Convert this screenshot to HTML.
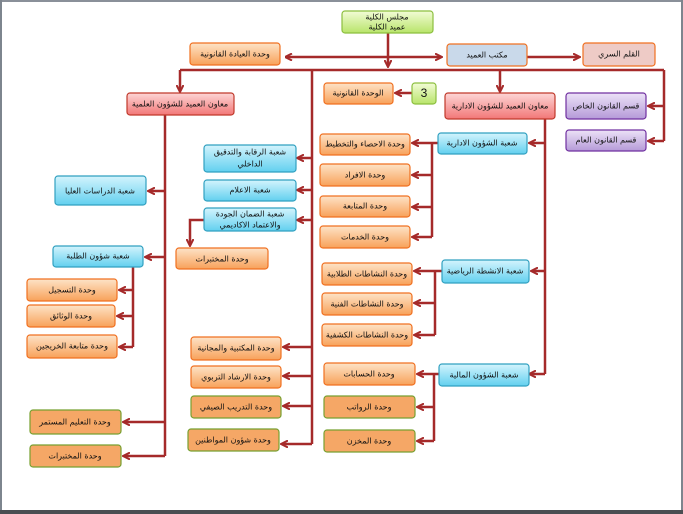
<!DOCTYPE html>
<html><head><meta charset="utf-8"><style>
html,body{margin:0;padding:0;background:#fff}
svg{display:block}
text{font-family:"DejaVu Sans",sans-serif;font-size:8px;fill:#111;text-anchor:middle;dominant-baseline:central;direction:rtl}
</style></head><body>
<svg width="683" height="514" viewBox="0 0 683 514" xmlns="http://www.w3.org/2000/svg">
<defs>
<linearGradient id="o" x1="0" y1="0" x2="0" y2="1"><stop offset="0" stop-color="#fde3c8"/><stop offset="1" stop-color="#f8a15a"/></linearGradient>
<linearGradient id="b" x1="0" y1="0" x2="0" y2="1"><stop offset="0" stop-color="#d4f4fd"/><stop offset="1" stop-color="#62d0ef"/></linearGradient>
<linearGradient id="r" x1="0" y1="0" x2="0" y2="1"><stop offset="0" stop-color="#fdd6d6"/><stop offset="1" stop-color="#f27777"/></linearGradient>
<linearGradient id="p" x1="0" y1="0" x2="0" y2="1"><stop offset="0" stop-color="#ece2f7"/><stop offset="1" stop-color="#b59ad8"/></linearGradient>
<linearGradient id="g" x1="0" y1="0" x2="0" y2="1"><stop offset="0" stop-color="#f2fcd6"/><stop offset="1" stop-color="#b8e46a"/></linearGradient>
<marker id="a" markerWidth="8" markerHeight="8" refX="6" refY="4" orient="auto" markerUnits="userSpaceOnUse"><path d="M0,0.5 L7,4 L0,7.5" fill="none" stroke="#a52a2a" stroke-width="2"/></marker>
<marker id="as" markerWidth="8" markerHeight="8" refX="1" refY="4" orient="auto" markerUnits="userSpaceOnUse"><path d="M7,0.5 L0,4 L7,7.5" fill="none" stroke="#a52a2a" stroke-width="2"/></marker>
</defs>
<!-- frame -->
<rect x="0" y="0" width="683" height="2" fill="#8a9099"/>
<rect x="0" y="0" width="2" height="514" fill="#7d858e"/>
<rect x="681" y="0" width="2" height="514" fill="#7d858e"/>
<rect x="0" y="510" width="683" height="4" fill="#4a4e52"/>

<g stroke="#a52a2a" stroke-width="2.5" fill="none">
<path d="M388,33 V66" marker-end="url(#a)"/>
<path d="M286,57 H441" marker-start="url(#as)" marker-end="url(#a)"/>
<path d="M527,57 H579" marker-end="url(#a)"/>
<path d="M180,70 H664"/>
<path d="M180,70 V91" marker-end="url(#a)"/>
<path d="M500,70 V91" marker-end="url(#a)"/>
<path d="M664,70 V141"/>
<path d="M664,106 H649" marker-end="url(#a)"/>
<path d="M664,141 H649" marker-end="url(#a)"/>
<path d="M412,93 H396" marker-end="url(#a)"/>
<path d="M312,70 V444"/>
<path d="M312,158 H298" marker-end="url(#a)"/>
<path d="M312,190 H298" marker-end="url(#a)"/>
<path d="M312,220 H298" marker-end="url(#a)"/>
<path d="M312,347 H284" marker-end="url(#a)"/>
<path d="M312,376 H284" marker-end="url(#a)"/>
<path d="M312,406 H284" marker-end="url(#a)"/>
<path d="M312,444 H282" marker-end="url(#a)"/>
<path d="M204,220 H190 V245" marker-end="url(#a)"/>
<path d="M165,112 V456"/>
<path d="M165,191 H149" marker-end="url(#a)"/>
<path d="M165,257 H146" marker-end="url(#a)"/>
<path d="M165,422 H124" marker-end="url(#a)"/>
<path d="M165,456 H124" marker-end="url(#a)"/>
<path d="M133,267 V347"/>
<path d="M133,290 H120" marker-end="url(#a)"/>
<path d="M133,316 H118" marker-end="url(#a)"/>
<path d="M133,347 H120" marker-end="url(#a)"/>
<path d="M545,119 V374"/>
<path d="M545,143 H530" marker-end="url(#a)"/>
<path d="M545,271 H532" marker-end="url(#a)"/>
<path d="M545,374 H530" marker-end="url(#a)"/>
<path d="M438,143 H413" marker-end="url(#a)"/>
<path d="M432,143 V237"/>
<path d="M432,175 H413" marker-end="url(#a)"/>
<path d="M432,207 H413" marker-end="url(#a)"/>
<path d="M432,237 H413" marker-end="url(#a)"/>
<path d="M442,271 H415" marker-end="url(#a)"/>
<path d="M435,271 V335"/>
<path d="M435,303 H415" marker-end="url(#a)"/>
<path d="M435,335 H415" marker-end="url(#a)"/>
<path d="M439,374 H418" marker-end="url(#a)"/>
<path d="M434,374 V441"/>
<path d="M434,407 H418" marker-end="url(#a)"/>
<path d="M434,441 H418" marker-end="url(#a)"/>
</g>

<g stroke-width="1.2">
<!-- green -->
<rect x="342" y="11" width="91" height="22" rx="3" fill="url(#g)" stroke="#8cbf3f"/>
<rect x="412" y="83" width="24" height="21" rx="3" fill="url(#g)" stroke="#8cbf3f"/>
<!-- orange -->
<rect x="190" y="43" width="90" height="22" rx="3" fill="url(#o)" stroke="#f07020"/>
<rect x="324" y="83" width="69" height="21" rx="3" fill="url(#o)" stroke="#f07020"/>
<rect x="320" y="134" width="90" height="21" rx="3" fill="url(#o)" stroke="#f07020"/>
<rect x="320" y="164" width="90" height="22" rx="3" fill="url(#o)" stroke="#f07020"/>
<rect x="320" y="196" width="90" height="21" rx="3" fill="url(#o)" stroke="#f07020"/>
<rect x="320" y="226" width="90" height="22" rx="3" fill="url(#o)" stroke="#f07020"/>
<rect x="322" y="263" width="90" height="22" rx="3" fill="url(#o)" stroke="#f07020"/>
<rect x="322" y="293" width="90" height="22" rx="3" fill="url(#o)" stroke="#f07020"/>
<rect x="322" y="324" width="90" height="22" rx="3" fill="url(#o)" stroke="#f07020"/>
<rect x="324" y="363" width="91" height="22" rx="3" fill="url(#o)" stroke="#f07020"/>
<rect x="176" y="248" width="92" height="21" rx="3" fill="url(#o)" stroke="#f07020"/>
<rect x="191" y="337" width="90" height="23" rx="3" fill="url(#o)" stroke="#f07020"/>
<rect x="191" y="366" width="90" height="22" rx="3" fill="url(#o)" stroke="#f07020"/>
<rect x="27" y="279" width="90" height="22" rx="3" fill="url(#o)" stroke="#f07020"/>
<rect x="27" y="305" width="88" height="22" rx="3" fill="url(#o)" stroke="#f07020"/>
<rect x="27" y="335" width="90" height="23" rx="3" fill="url(#o)" stroke="#f07020"/>
<!-- tan green border -->
<rect x="324" y="396" width="91" height="22" rx="3" fill="#f5a766" stroke="#77a030"/>
<rect x="324" y="430" width="91" height="22" rx="3" fill="#f5a766" stroke="#77a030"/>
<rect x="191" y="396" width="90" height="22" rx="3" fill="#f5a766" stroke="#77a030"/>
<rect x="188" y="429" width="91" height="22" rx="3" fill="#f5a766" stroke="#77a030"/>
<rect x="30" y="410" width="91" height="24" rx="3" fill="#f5a766" stroke="#77a030"/>
<rect x="30" y="445" width="91" height="22" rx="3" fill="#f5a766" stroke="#77a030"/>
<!-- blue -->
<rect x="447" y="44" width="80" height="22" rx="3" fill="#c9d9ea" stroke="#f07020"/>
<rect x="438" y="133" width="89" height="21" rx="3" fill="url(#b)" stroke="#31a0c0"/>
<rect x="442" y="260" width="87" height="23" rx="3" fill="url(#b)" stroke="#31a0c0"/>
<rect x="439" y="364" width="90" height="22" rx="3" fill="url(#b)" stroke="#31a0c0"/>
<rect x="204" y="145" width="92" height="27" rx="3" fill="url(#b)" stroke="#31a0c0"/>
<rect x="204" y="180" width="92" height="21" rx="3" fill="url(#b)" stroke="#31a0c0"/>
<rect x="204" y="208" width="92" height="23" rx="3" fill="url(#b)" stroke="#31a0c0"/>
<rect x="55" y="176" width="91" height="29" rx="3" fill="url(#b)" stroke="#31a0c0"/>
<rect x="53" y="246" width="90" height="21" rx="3" fill="url(#b)" stroke="#31a0c0"/>
<!-- pink/red -->
<rect x="583" y="43" width="72" height="23" rx="3" fill="#eecbc6" stroke="#f07020"/>
<rect x="445" y="93" width="110" height="26" rx="3" fill="url(#r)" stroke="#c0392b"/>
<rect x="127" y="93" width="107" height="22" rx="3" fill="url(#r)" stroke="#c0392b"/>
<!-- purple -->
<rect x="566" y="93" width="80" height="26" rx="3" fill="url(#p)" stroke="#7030a0"/>
<rect x="566" y="130" width="80" height="21" rx="3" fill="url(#p)" stroke="#7030a0"/>
</g>

<text x="387" y="17">مجلس الكلية</text>
<text x="387" y="27">عميد الكلية</text>
<text x="424" y="93" style="font-size:12px;font-family:'Liberation Sans',sans-serif">3</text>
<text x="235" y="54">وحدة العيادة القانونية</text>
<text x="358" y="93">الوحدة القانونية</text>
<text x="365" y="144">وحدة الاحصاء والتخطيط</text>
<text x="365" y="175">وحدة الافراد</text>
<text x="365" y="206">وحدة المتابعة</text>
<text x="365" y="237">وحدة الخدمات</text>
<text x="367" y="274">وحدة النشاطات الطلابية</text>
<text x="367" y="304">وحدة النشاطات الفنية</text>
<text x="367" y="335">وحدة النشاطات الكشفية</text>
<text x="369" y="374">وحدة الحسابات</text>
<text x="369" y="407">وحدة الرواتب</text>
<text x="369" y="441">وحدة المخزن</text>
<text x="222" y="259">وحدة المختبرات</text>
<text x="236" y="348">وحدة المكتبية والمجانية</text>
<text x="236" y="377">وحدة الارشاد التربوي</text>
<text x="236" y="407">وحدة التدريب الصيفي</text>
<text x="233" y="440">وحدة شؤون المواطنين</text>
<text x="72" y="290">وحدة التسجيل</text>
<text x="71" y="316">وحدة الوثائق</text>
<text x="72" y="346">وحدة متابعة الخريجين</text>
<text x="75" y="422">وحدة التعليم المستمر</text>
<text x="75" y="456">وحدة المختبرات</text>
<text x="487" y="55">مكتب العميد</text>
<text x="482" y="143">شعبة الشؤون الادارية</text>
<text x="485" y="271">شعبة الانشطة الرياضية</text>
<text x="484" y="375">شعبة الشؤون المالية</text>
<text x="250" y="152">شعبة الرقابة والتدقيق</text>
<text x="250" y="164">الداخلي</text>
<text x="250" y="190">شعبة الاعلام</text>
<text x="250" y="214">شعبة الضمان الجودة</text>
<text x="250" y="225">والاعتماد الاكاديمي</text>
<text x="100" y="191">شعبة الدراسات العليا</text>
<text x="98" y="256">شعبة شؤون الطلبة</text>
<text x="619" y="54">القلم السري</text>
<text x="500" y="106">معاون العميد للشؤون الادارية</text>
<text x="180" y="104">معاون العميد للشؤون العلمية</text>
<text x="606" y="106">قسم القانون الخاص</text>
<text x="606" y="140">قسم القانون العام</text>
</svg>
</body></html>
